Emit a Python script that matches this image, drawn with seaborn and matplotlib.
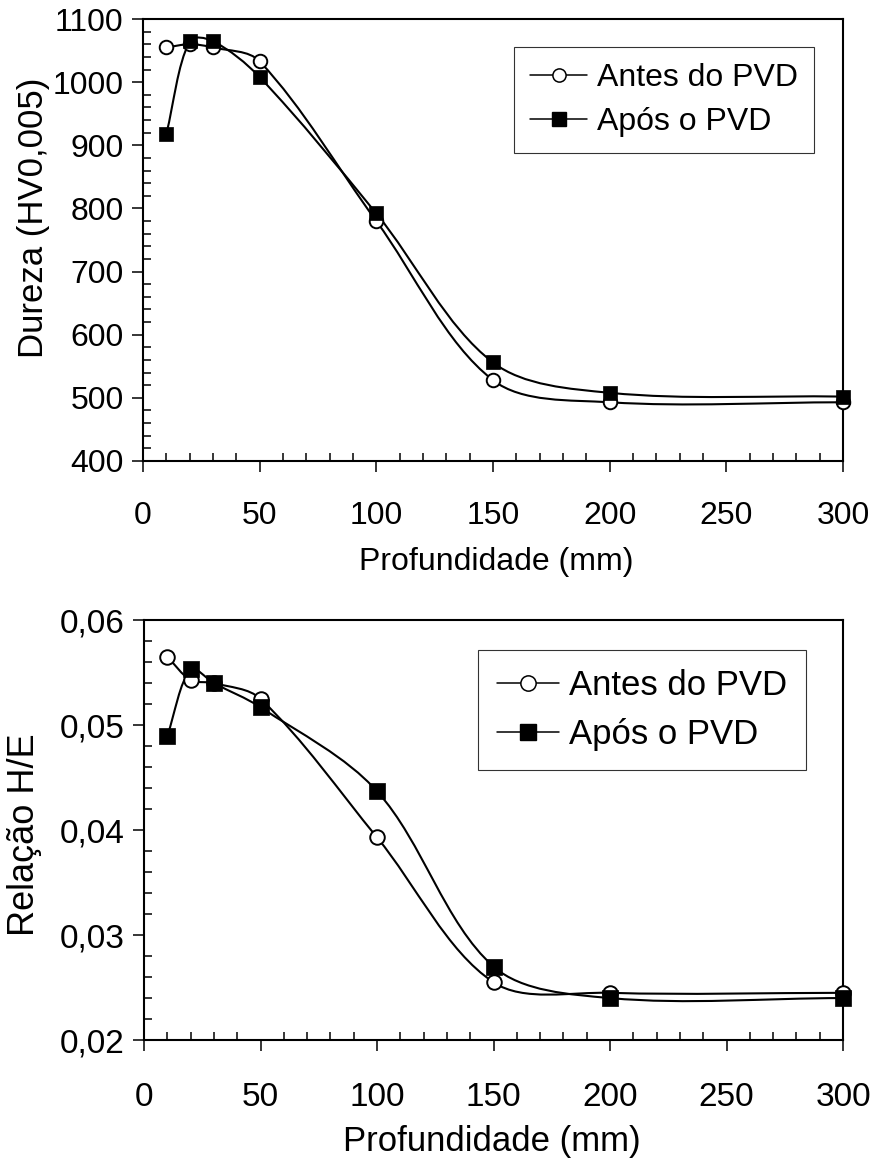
import numpy as np
import matplotlib
matplotlib.use("Agg")
import matplotlib.pyplot as plt
import seaborn as sns
from matplotlib.path import Path
from matplotlib.patches import PathPatch
from matplotlib.lines import Line2D
from matplotlib.ticker import MultipleLocator, FuncFormatter

# Data
depth = [10, 20, 30, 50, 100, 150, 200, 300]
hard_before = [1055, 1060, 1055, 1033, 780, 528, 493, 493]
hard_after = [918, 1065, 1065, 1008, 792, 556, 508, 502]
he_before = [0.0565, 0.0543, 0.0540, 0.0525, 0.0393, 0.0255, 0.0245, 0.0245]
he_after = [0.0490, 0.0553, 0.0540, 0.0517, 0.0437, 0.0270, 0.0240, 0.0240]
labels = ["Antes do PVD", "Após o PVD"]

sns.set_theme(style="white")
plt.rcParams["font.family"] = ["Liberation Sans", "DejaVu Sans"]
plt.rcParams["text.color"] = "black"
plt.rcParams["axes.labelcolor"] = "black"
plt.rcParams["xtick.color"] = "black"
plt.rcParams["ytick.color"] = "black"


def smooth_path(ax, x, y):
    # smoothed line like Excel: Bezier segments, tangents weighted by screen distance
    pts = np.column_stack([x, y]).astype(float)
    bb = ax.get_position()
    x0, x1 = ax.get_xlim()
    y0, y1 = ax.get_ylim()
    scale = np.array([bb.width * 875 / (x1 - x0), bb.height * 1160 / (y1 - y0)])
    n = len(pts)
    d = [np.hypot(*((pts[i + 1] - pts[i]) * scale)) for i in range(n - 1)]
    tang = []
    for i in range(n):
        if i == 0:
            tang.append((pts[1] - pts[0]) / 3)
        elif i == n - 1:
            tang.append((pts[-1] - pts[-2]) / 3)
        else:
            tang.append((pts[i + 1] - pts[i - 1]) / 3)
    verts = [pts[0]]
    codes = [Path.MOVETO]
    for i in range(n - 1):
        w1 = d[i] / (d[i - 1] + d[i]) if i > 0 else 1.0
        w2 = d[i] / (d[i] + d[i + 1]) if i + 1 < n - 1 else 1.0
        verts += [pts[i] + tang[i] * w1, pts[i + 1] - tang[i + 1] * w2, pts[i + 1]]
        codes += [Path.CURVE4] * 3
    ax.add_patch(PathPatch(Path(verts, codes), fill=False, edgecolor="black",
                           lw=1.5, zorder=2))


def draw_panel(ax, y_before, y_after, fs_tick, pad_x, s_circ, s_sq, ms):
    smooth_path(ax, depth, y_before)
    smooth_path(ax, depth, y_after)
    sns.scatterplot(x=depth, y=y_before, marker="o", s=s_circ, facecolor="white",
                    edgecolor="black", linewidth=1.4, zorder=3, clip_on=False, ax=ax)
    sns.scatterplot(x=depth, y=y_after, marker="s", s=s_sq, color="black",
                    edgecolor="black", linewidth=0.5, zorder=4, clip_on=False, ax=ax)
    ax.xaxis.set_major_locator(MultipleLocator(50))
    ax.xaxis.set_minor_locator(MultipleLocator(10))
    ax.tick_params(which="major", direction="out", length=8, width=1.1,
                   labelsize=fs_tick)
    ax.tick_params(axis="x", which="major", pad=pad_x)
    ax.tick_params(axis="y", which="major", pad=6)
    ax.tick_params(which="minor", direction="in", length=6, width=1.1)
    ax.tick_params(bottom=True, left=True, top=False, right=False, which="both")
    for sp in ax.spines.values():
        sp.set_color("black")
        sp.set_linewidth(1.5)
    handles = [
        Line2D([], [], color="black", lw=1.1, marker="o", markersize=ms,
               markerfacecolor="white", markeredgecolor="black", markeredgewidth=1.1),
        Line2D([], [], color="black", lw=1.1, marker="s", markersize=ms,
               markerfacecolor="black", markeredgecolor="black"),
    ]
    return handles


fig = plt.figure(figsize=(8.75, 11.6), dpi=100)
ax1 = fig.add_axes([0.1634, 0.6026, 0.8, 0.381])
ax2 = fig.add_axes([0.1646, 0.1034, 0.7989, 0.362])

# top panel: hardness
ax1.set_xlim(0, 300)
ax1.set_ylim(400, 1100)
h = draw_panel(ax1, hard_before, hard_after, 23, 21, 95, 115, 9.5)
ax1.yaxis.set_major_locator(MultipleLocator(100))
ax1.yaxis.set_minor_locator(MultipleLocator(20))
ax1.set_xlabel("Profundidade (mm)", fontsize=23)
ax1.xaxis.set_label_coords(0.504, -0.195)
ax1.set_ylabel("Dureza (HV0,005)", fontsize=25)
ax1.yaxis.set_label_coords(-0.133, 0.55)
leg = ax1.legend(h, labels, loc="upper right", bbox_to_anchor=(0.9586, 0.937),
                 borderaxespad=0, fontsize=23, frameon=True, fancybox=False,
                 handlelength=1.8, handletextpad=0.3, labelspacing=0.45,
                 borderpad=0.5)
leg.get_frame().set_edgecolor("black")
leg.get_frame().set_linewidth(0.8)

# bottom panel: H/E ratio
ax2.set_xlim(0, 300)
ax2.set_ylim(0.02, 0.06)
h = draw_panel(ax2, he_before, he_after, 24, 22, 110, 135, 11)
ax2.yaxis.set_major_locator(MultipleLocator(0.01))
ax2.yaxis.set_minor_locator(MultipleLocator(0.002))
ax2.yaxis.set_major_formatter(FuncFormatter(lambda v, p: f"{v:.2f}".replace(".", ",")))
ax2.set_xlabel("Profundidade (mm)", fontsize=25)
ax2.xaxis.set_label_coords(0.497, -0.2024)
ax2.set_ylabel("Relação H/E", fontsize=26)
ax2.yaxis.set_label_coords(-0.146, 0.49)
leg = ax2.legend(h, labels, loc="upper right", bbox_to_anchor=(0.947, 0.9286),
                 borderaxespad=0, fontsize=25, frameon=True, fancybox=False,
                 handlelength=1.8, handletextpad=0.27, labelspacing=0.45,
                 borderpad=0.55)
leg.get_frame().set_edgecolor("black")
leg.get_frame().set_linewidth(0.8)

fig.savefig("out.png", dpi=100)
